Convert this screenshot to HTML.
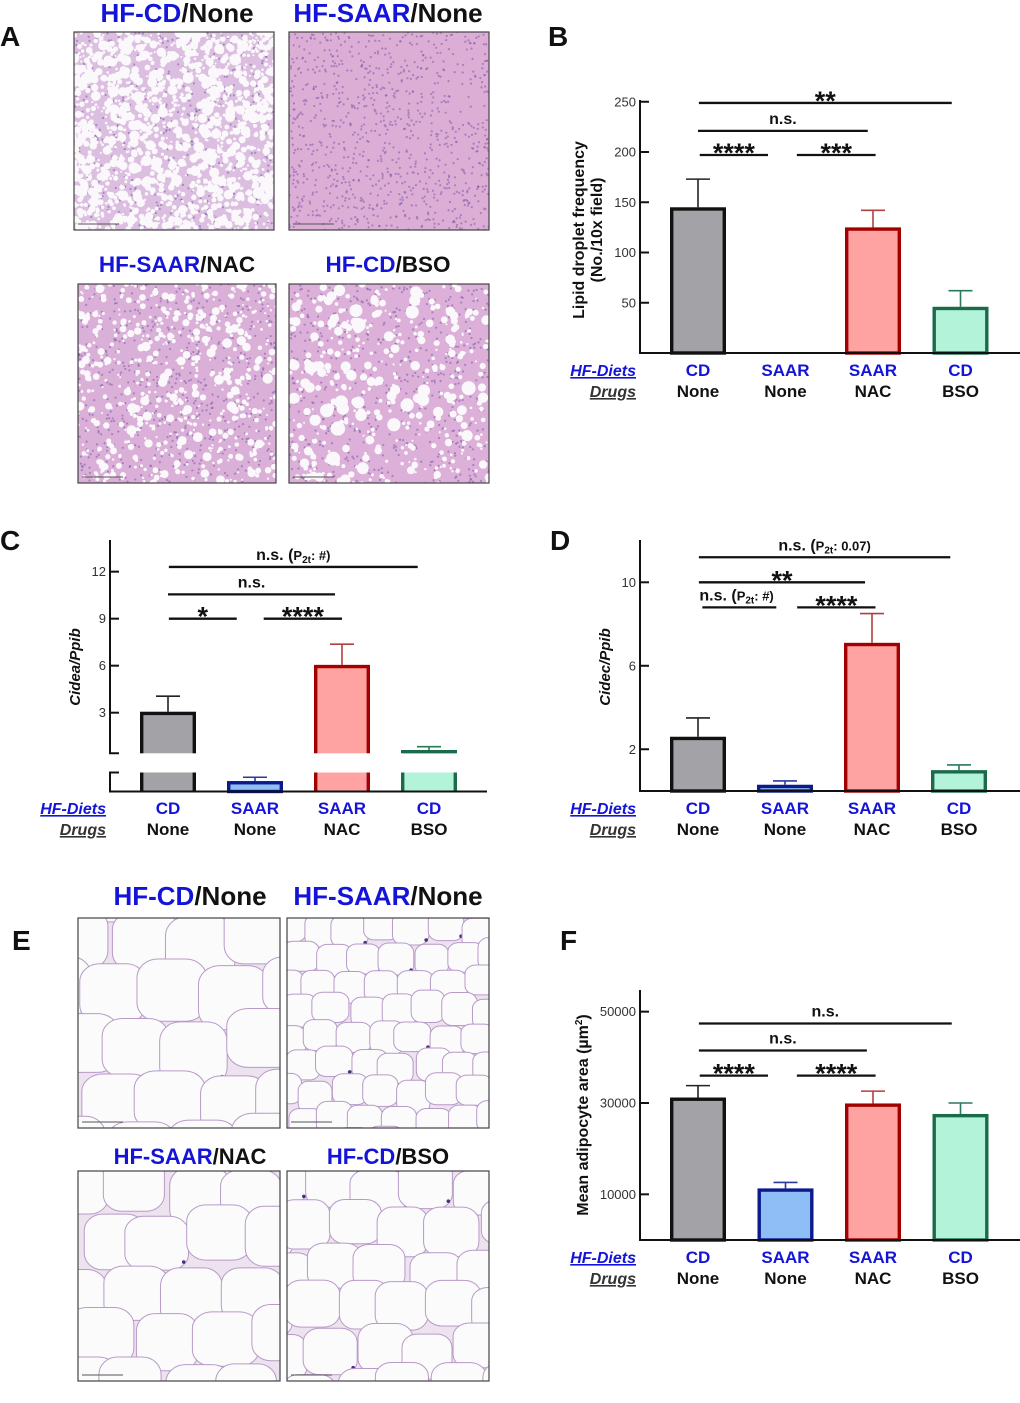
<!DOCTYPE html>
<html><head><meta charset="utf-8">
<style>
html,body{margin:0;padding:0;background:#fff;width:1020px;height:1403px;overflow:hidden;}
svg{display:block;font-family:"Liberation Sans",Arial,sans-serif;}
</style></head>
<body>
<svg id="fig" width="1020" height="1403" viewBox="0 0 1020 1403" xmlns="http://www.w3.org/2000/svg"></svg>
<script>
// ---------- data ----------
const diets = ["CD","SAAR","SAAR","CD"];
const drugs = ["None","None","NAC","BSO"];
const bVals = [145, 0, 125, 46];
const bErr  = [173, 0, 142, 62];
const bTicks = [50,100,150,200,250];
const cVals = [3.06, 0.22, 6.05, 0.62];
const cErr  = [4.05, 0.30, 7.37, 0.83];
const cTicks = [3,6,9,12];
const dVals = [2.6, 0.3, 7.1, 1.0];
const dErr  = [3.5, 0.48, 8.5, 1.25];
const dTicks = [2,6,10];
const fVals = [31200, 11300, 29900, 27600];
const fErr  = [33800, 12600, 32600, 30000];
const fTicks = [10000,30000,50000];
// significance annotations: [startCat, endCat, level, label]
const bSig = [[0.01,2.9,248.8,"**"],[0,1.94,221,"n.s."],[0.02,0.8,197,"****"],[1.13,2.03,197,"***"]];
const cSig = [[0.01,2.87,12.3,"n.s. (P2t: #)"],[0,1.92,10.55,"n.s."],[0.01,0.79,9,"*"],[1.1,2.0,9,"****"]];
const dSig = [[0.01,2.9,11.2,"n.s. (P2t: 0.07)"],[0.01,1.92,10,"**"],[0.05,0.9,8.8,"n.s. (P2t: #)"],[1.14,2.04,8.8,"****"]];
const fSig = [[0.01,2.9,47400,"n.s."],[0.01,1.93,41500,"n.s."],[0.02,0.8,36000,"****"],[1.13,2.03,36000,"****"]];

const NS="http://www.w3.org/2000/svg";
const svg=document.getElementById('fig');
function el(tag,attrs,parent){const e=document.createElementNS(NS,tag);for(const k in attrs)e.setAttribute(k,attrs[k]);(parent||svg).appendChild(e);return e;}
function txt(str,attrs,parent){const t=el('text',attrs,parent);t.textContent=str;return t;}

const fills=["#a2a2a7","#8fbdf6","#ffa2a2","#b2f3da"];
const strokes=["#111111","#0c1a8e","#a30000","#1b6b4b"];
const errCols=["#222","#2a3a9e","#b04040","#2a7a5a"];
const BLUE="#1414d8";

[["A",0,46],["B",548,46],["C",0,550],["D",550,550],["E",12,950],["F",560,950]].forEach(p=>{
  const t=txt(p[0],{x:p[1],y:p[2],'font-size':28,'font-weight':'bold',fill:'#111'});
  
  
});

let seed=12345;
function rnd(){seed=(seed*1103515245+12345)&0x7fffffff;return seed/0x7fffffff;}
function title(x,y,a,b,fs,name){
  const t=txt('',{x:x,y:y,'font-size':fs,'font-weight':'bold','text-anchor':'middle'});
  const s1=el('tspan',{fill:BLUE},t);s1.textContent=a;
  const s2=el('tspan',{fill:'#111'},t);s2.textContent=b;
  
  
}
function liver(x,y,w,h,bg,nVac,rmax,nNuc,name){
  const g=el('g',{});
  
  
  const cp='cp'+name;
  const c=el('clipPath',{id:cp},g);el('rect',{x:x,y:y,width:w,height:h},c);
  const inner=el('g',{'clip-path':'url(#'+cp+')'},g);
  el('rect',{x:x,y:y,width:w,height:h,fill:bg},inner);
  for(let i=0;i<nNuc;i++)el('circle',{cx:x+rnd()*w,cy:y+rnd()*h,r:1.1,fill:'#7a5aa8',opacity:0.55},inner);
  for(let i=0;i<nVac;i++){const r=1+rnd()*rnd()*rmax;el('circle',{cx:x+rnd()*w,cy:y+rnd()*h,r:r,fill:'#fbf8fb'},inner);}
  el('line',{x1:x+4,y1:y+h-6,x2:x+45,y2:y+h-6,stroke:'#555','stroke-width':1},inner);
  el('rect',{x:x,y:y,width:w,height:h,fill:'none',stroke:'#444','stroke-width':1.2},g);
}
function fat(x,y,w,h,step,nuc,name){
  const g=el('g',{});
  
  
  const cp='cp'+name;
  const c=el('clipPath',{id:cp},g);el('rect',{x:x,y:y,width:w,height:h},c);
  const inner=el('g',{'clip-path':'url(#'+cp+')'},g);
  el('rect',{x:x,y:y,width:w,height:h,fill:'#ece3ef'},inner);
  let row=0;
  for(let gy=y-step/2;gy<y+h+step;gy+=step*0.85,row++){
    for(let gx=x-step/2+(row%2)*step*0.5;gx<x+w+step;gx+=step){
      const cx=gx+(rnd()-0.5)*step*0.3, cy=gy+(rnd()-0.5)*step*0.3;
      const rx=step*(0.52+rnd()*0.06), ry=step*(0.46+rnd()*0.06);
      el('rect',{x:cx-rx,y:cy-ry,width:2*rx,height:2*ry,rx:rx*0.6,ry:ry*0.6,fill:'#fbfbfb',stroke:'#b89ac8','stroke-width':1},inner);
      if(rnd()<nuc)el('circle',{cx:cx+rx*0.85,cy:cy+ry*0.7,r:1.8,fill:'#4a3080'},inner);
    }
  }
  el('line',{x1:x+4,y1:y+h-6,x2:x+45,y2:y+h-6,stroke:'#555','stroke-width':1},inner);
  el('rect',{x:x,y:y,width:w,height:h,fill:'none',stroke:'#444','stroke-width':1.2},g);
}
title(177,22,"HF-CD","/None",26,"title-a-cd-none");
title(388,22,"HF-SAAR","/None",26,"title-a-saar-none");
title(177,272,"HF-SAAR","/NAC",22.5,"title-a-saar-nac");
title(388,272,"HF-CD","/BSO",22.5,"title-a-cd-bso");
liver(74,32,200,198,'#dcbfe0',1600,5,500,'histo-a-cd-none');
liver(289,32,200,198,'#dcaed6',0,1,900,'histo-a-saar-none');
liver(78,284,198,199,'#dbb0d8',600,4.5,600,'histo-a-saar-nac');
liver(289,284,200,199,'#dcb0d8',420,6.5,600,'histo-a-cd-bso');
title(190,905,"HF-CD","/None",26,"title-e-cd-none");
title(388,905,"HF-SAAR","/None",26,"title-e-saar-none");
title(190,1164,"HF-SAAR","/NAC",22,"title-e-saar-nac");
title(388,1164,"HF-CD","/BSO",22,"title-e-cd-bso");
fat(78,918,202,210,62,0.15,'histo-e-cd-none');
fat(287,918,202,210,32,0.35,'histo-e-saar-none');
fat(78,1171,202,210,58,0.1,'histo-e-saar-nac');
fat(287,1171,202,210,48,0.15,'histo-e-cd-bso');

function chart(o){
  const g=el('g',{});
  
  
  const cx=i=>o.ax+58+i*o.step;
  const bw=56;
  o.vals.forEach((v,i)=>{
    const x=cx(i)-bw/2;
    if(o.errs[i]>v){
      const ln=el('line',{x1:cx(i),y1:o.y(v),x2:cx(i),y2:o.y(o.errs[i]),stroke:errCols[i],'stroke-width':1.6},g);
      
      
      el('line',{x1:cx(i)-12,y1:o.y(o.errs[i]),x2:cx(i)+12,y2:o.y(o.errs[i]),stroke:errCols[i],'stroke-width':1.6},g);
    }
    if(v<=0)return;
    if(o.broken){
      const lowTop=o.y(Math.min(v,o.brkLo));
      const r1=el('rect',{x:x,y:lowTop,width:bw,height:o.base-lowTop,fill:fills[i]},g);
      
      
      if(v<=o.brkLo){
        el('rect',{x:x+1.7,y:lowTop+1.7,width:bw-3.4,height:o.base-lowTop-1.7,fill:'none',stroke:strokes[i],'stroke-width':3.4},g);
      }else{
        el('path',{d:`M${x+1.7},${o.brkLoY} V${o.base} M${x+bw-1.7},${o.brkLoY} V${o.base}`,stroke:strokes[i],'stroke-width':3.4,fill:'none'},g);
        const top=o.y(v);
        el('rect',{x:x,y:top,width:bw,height:o.brkHiY-top,fill:fills[i]},g);
        el('path',{d:`M${x+1.7},${o.brkHiY} V${top+1.7} H${x+bw-1.7} V${o.brkHiY}`,stroke:strokes[i],'stroke-width':3.4,fill:'none'},g);
      }
    }else{
      const top=o.y(v);
      const r=el('rect',{x:x+1.7,y:top+1.7,width:bw-3.4,height:o.base-top-1.7,fill:fills[i],stroke:strokes[i],'stroke-width':3.4},g);
      
      
    }
  });
  if(o.broken){
    el('path',{d:`M${o.ax},${o.top} V${o.brkHiY} H${o.ax+9} M${o.ax+9},${o.brkLoY} H${o.ax} V${o.base}`,stroke:'#111','stroke-width':2,fill:'none'},g);
  }else{
    el('line',{x1:o.ax,y1:o.top,x2:o.ax,y2:o.base,stroke:'#111','stroke-width':2},g);
  }
  const xa=el('line',{x1:o.ax-1,y1:o.base,x2:o.xEnd,y2:o.base,stroke:'#111','stroke-width':2},g);
  
  
  o.ticks.forEach(t=>{
    el('line',{x1:o.ax,y1:o.y(t),x2:o.ax+9,y2:o.y(t),stroke:'#111','stroke-width':2},g);
    const tl=txt(String(t),{x:o.ax-4,y:o.y(t)+4.5,'font-size':13,'text-anchor':'end',fill:'#333'},g);
    
    
  });
  const hd=txt('HF-Diets',{x:o.ax-4,y:o.labY,'font-size':16,'font-weight':'bold','font-style':'italic','text-anchor':'end',fill:BLUE,'text-decoration':'underline'},g);
  
  
  const dr=txt('Drugs',{x:o.ax-4,y:o.labY+21,'font-size':16,'font-weight':'bold','font-style':'italic','text-anchor':'end',fill:'#333','text-decoration':'underline'},g);
  
  
  diets.forEach((d,i)=>{
    const a=txt(d,{x:cx(i),y:o.labY,'font-size':17,'font-weight':'bold','text-anchor':'middle',fill:BLUE},g);
    
    
    const b=txt(drugs[i],{x:cx(i),y:o.labY+21,'font-size':17,'font-weight':'bold','text-anchor':'middle',fill:'#111'},g);
    
    
  });
  o.sig.forEach((s,k)=>{
    const x1=cx(s[0]),x2=cx(s[1]),yy=o.y(s[2]);
    const ln=el('line',{x1:x1,y1:yy,x2:x2,y2:yy,stroke:'#111','stroke-width':2.3},g);
    
    
    const star=/^\*+$/.test(s[3]);
    const mid=(x1+x2)/2;
    let t;
    if(s[3].indexOf('P2t')>=0){
      const parts=s[3].split('P2t');
      const left=(s[0]===0.05);
      t=txt('',{x:left?x1-3:mid,y:yy-7,'font-size':16,'font-weight':'bold','text-anchor':left?'start':'middle',fill:'#111'},g);
      const a=el('tspan',{},t);a.textContent=parts[0];
      const b=el('tspan',{'font-size':13},t);b.textContent='P';
      const c=el('tspan',{'font-size':10,dy:3},t);c.textContent='2t';
      const d=el('tspan',{'font-size':13,dy:-3},t);d.textContent=parts[1];
    }else if(star){
      t=txt(s[3],{x:mid,y:yy+7,'font-size':27,'font-weight':'bold','text-anchor':'middle',fill:'#111','letter-spacing':'0'},g);
    }else{
      t=txt(s[3],{x:mid,y:yy-7,'font-size':16,'font-weight':'bold','text-anchor':'middle',fill:'#111'},g);
    }
    
    
  });
  const yt=el('text',{transform:`translate(${o.ytX},${o.ytY}) rotate(-90)`,'font-size':o.ytSize||15,'font-weight':'bold','font-style':o.ytItalic?'italic':'normal','text-anchor':'middle',fill:'#111'},g);
  
  
  o.ytLines.forEach((l,i)=>{const s=el('tspan',{x:0,dy:i?18:0},yt);s.innerHTML=l;});
}

chart({name:'chart-b-lipid-droplets',ax:640,step:87.5,base:353,top:100,xEnd:1020,y:v=>353-v*1.005,
  vals:bVals,errs:bErr,ticks:bTicks,sig:bSig,labY:376,ytX:584,ytY:230,ytSize:16,
  ytLines:['Lipid droplet frequency','(No./10x field)']});

const cBrkLo=0.4;
chart({name:'chart-c-cidea',ax:110,step:87,base:791.5,top:540,xEnd:487,broken:true,
  brkLo:cBrkLo,brkLoY:772.5,brkHiY:753.3,
  y:v=> v<=cBrkLo ? 791.5-v*47.5 : Math.min(753.3,759.7-v*15.67),
  vals:cVals,errs:cErr,ticks:cTicks,sig:cSig,labY:814,ytX:80,ytY:667,ytItalic:true,
  ytLines:['Cidea/Ppib']});

chart({name:'chart-d-cidec',ax:640,step:87,base:791,top:540,xEnd:1020,y:v=>791-v*20.87,
  vals:dVals,errs:dErr,ticks:dTicks,sig:dSig,labY:814,ytX:610,ytY:667,ytItalic:true,
  ytLines:['Cidec/Ppib']});

chart({name:'chart-f-adipocyte-area',ax:640,step:87.5,base:1240,top:990,xEnd:1020,y:v=>1240-v*0.004567,
  vals:fVals,errs:fErr,ticks:fTicks,sig:fSig,labY:1263,ytX:588,ytY:1115,ytSize:16,
  ytLines:['Mean adipocyte area (µm<tspan font-size="10" dy="-6">2</tspan><tspan dy="6">)</tspan>']});
</script>
</body></html>
